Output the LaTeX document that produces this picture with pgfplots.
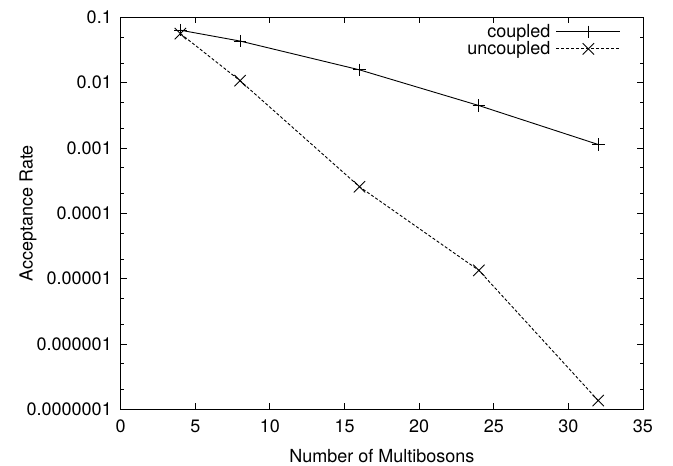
\documentclass[border=0pt]{standalone}
\usepackage{fontspec}
\setmainfont{TeX Gyre Heros}
\usepackage{pgfplots}
\pgfplotsset{compat=1.18}
\begin{document}
\begin{tikzpicture}[x=1pt,y=1pt]
\path[use as bounding box] (0pt,0pt) rectangle (673pt,466pt);
\begin{axis}[
  at={(120.7pt,56.7pt)}, anchor=south west,
  scale only axis, width=522.3pt, height=392pt,
  xmin=0, xmax=35, ymode=log, ymin=1e-7, ymax=0.1,
  xtick={0,5,10,15,20,25,30,35},
  ytick={1e-7,1e-6,1e-5,1e-4,1e-3,1e-2,1e-1},
  yticklabels={0.0000001,0.000001,0.00001,0.0001,0.001,0.01,0.1},
  minor ytick={2e-7,5e-7,2e-6,5e-6,2e-5,5e-5,2e-4,5e-4,2e-3,5e-3,2e-2,5e-2},
  tick align=inside, major tick length=6pt, minor tick length=3.3pt,
  tick style={black, line width=0.9pt},
  axis line style={line width=1pt},
  font=\fontsize{18}{21}\selectfont,
  /pgf/number format/assume math mode=true,
  yticklabel style={xshift=-5.4pt},
  xticklabel style={yshift=-6.7pt},
  xlabel={Number of Multibosons}, ylabel={Acceptance Rate},
  every axis x label/.style={at={(axis description cs:0.5,0)}, yshift=-53pt, anchor=base},
  every axis y label/.style={at={(axis description cs:0,0.5)}, xshift=-92.7pt, rotate=90, anchor=center},
  legend plot pos=right, legend cell align=right,
  legend style={draw=none, fill=none, at={(rel axis cs:0.958,0.982)}, anchor=north east,
    inner sep=0pt, nodes={inner sep=0pt}, column sep=5.6pt, row sep=2.4pt,
    font=\fontsize{18}{21}\selectfont},
  legend image code/.code={\draw[mark repeat=2,mark phase=2,#1] plot coordinates {(0pt,0pt) (32pt,0pt) (64pt,0pt)};},
]
\addplot[black, line width=0.9pt, mark=+, mark size=6.3pt, mark options={solid, line width=0.9pt}] coordinates {
  (4,0.0635) (8,0.0433) (16,0.0157) (24,0.00446) (32,0.00113)};
\addlegendentry{coupled}
\addplot[black, line width=0.9pt, dash pattern=on 3pt off 2pt, mark=x, mark size=8pt, mark options={solid, line width=0.9pt}] coordinates {
  (4,0.0563) (8,0.0107) (16,0.000255) (24,0.0000134) (32,0.000000136)};
\addlegendentry{uncoupled}
\end{axis}
\end{tikzpicture}
\end{document}
